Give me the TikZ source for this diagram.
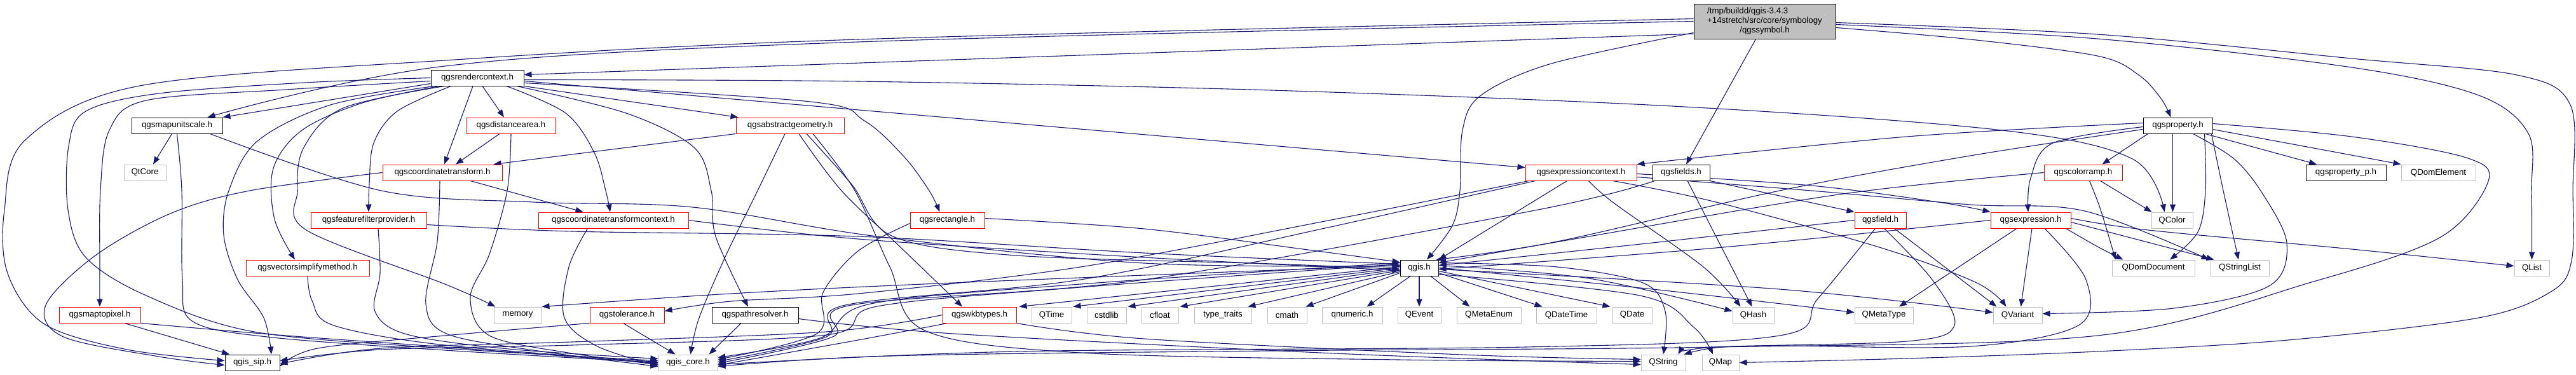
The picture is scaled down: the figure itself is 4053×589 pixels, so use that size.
\documentclass[tikz,border=0pt]{standalone}
\usepackage{fontspec}
\setmainfont{Liberation Sans}
\usetikzlibrary{arrows.meta,calc,backgrounds}
\definecolor{edgeblue}{RGB}{25,25,112}
\definecolor{graybd}{RGB}{191,191,191}
\definecolor{rootfill}{RGB}{191,191,191}
\definecolor{redbd}{RGB}{255,0,0}
\begin{document}
\begin{tikzpicture}[x=1pt,y=-1pt,
 nbox/.style={rectangle,line width=1pt,minimum height=25pt,inner sep=0pt,fill=white,font=\fontsize{13.3}{15}\selectfont},
 kbox/.style={nbox,draw=black},
 rbox/.style={nbox,draw=redbd},
 gbox/.style={nbox,draw=graybd},
 edg/.style={draw=edgeblue,line width=1.1pt,-{Triangle[length=12pt,width=9pt]}},
 smo/.style={smooth,tension=0.55}]
\useasboundingbox (0,0) rectangle (4053,589);
% ---------------- nodes
\node[kbox,fill=rootfill,minimum width=223pt,minimum height=55pt] (root) at (2776.5,33.5)
 {\begin{tabular}{@{}l@{}}/tmp/buildd/qgis-3.4.3\\+14stretch/src/core/symbology\\\multicolumn{1}{@{}c@{}}{/qgssymbol.h}\end{tabular}};
\node[kbox,minimum width=146pt] (rc) at (751,122.5) {qgsrendercontext.h};
\node[kbox,minimum width=143pt] (mus) at (278.5,197.5) {qgsmapunitscale.h};
\node[rbox,minimum width=140pt] (da) at (804,197.5) {qgsdistancearea.h};
\node[rbox,minimum width=170pt] (ag) at (1243,197.5) {qgsabstractgeometry.h};
\node[kbox,minimum width=109pt] (prop) at (3426.5,197.5) {qgsproperty.h};
\node[gbox,minimum width=66pt] (qtcore) at (228,271.5) {QtCore};
\node[rbox,minimum width=188pt] (ct) at (696,271.5) {qgscoordinatetransform.h};
\node[rbox,minimum width=175pt] (ec) at (2487.5,271.5) {qgsexpressioncontext.h};
\node[kbox,minimum width=90pt] (fields) at (2645,271.5) {qgsfields.h};
\node[rbox,minimum width=123pt] (cr) at (3277.5,271.5) {qgscolorramp.h};
\node[kbox,minimum width=126pt] (propp) at (3691,271.5) {qgsproperty\_p.h};
\node[gbox,minimum width=117pt] (domel) at (3836.5,271.5) {QDomElement};
\node[rbox,minimum width=182pt] (ffp) at (580,346.5) {qgsfeaturefilterprovider.h};
\node[rbox,minimum width=236pt] (ctc) at (965,346.5) {qgscoordinatetransformcontext.h};
\node[rbox,minimum width=117pt] (rect) at (1490.5,346.5) {qgsrectangle.h};
\node[rbox,minimum width=81pt] (field) at (2958.5,346.5) {qgsfield.h};
\node[rbox,minimum width=126pt] (expr) at (3195,346.5) {qgsexpression.h};
\node[gbox,minimum width=65pt] (qcolor) at (3417.5,346.5) {QColor};
\node[rbox,minimum width=194pt] (vsm) at (484,421.5) {qgsvectorsimplifymethod.h};
\node[kbox,minimum width=60pt] (qgis) at (2233,421.5) {qgis.h};
\node[gbox,minimum width=130pt] (domdoc) at (3388,421.5) {QDomDocument};
\node[gbox,minimum width=92pt] (strlist) at (3524,421.5) {QStringList};
\node[gbox,minimum width=55pt] (qlist) at (3983.5,421.5) {QList};
\node[rbox,minimum width=128pt] (m2p) at (157,495.5) {qgsmaptopixel.h};
\node[gbox,minimum width=75pt] (memory) at (814.5,495.5) {memory};
\node[rbox,minimum width=117pt] (tol) at (986.5,495.5) {qgstolerance.h};
\node[kbox,minimum width=136pt] (pr) at (1188,495.5) {qgspathresolver.h};
\node[rbox,minimum width=116pt] (wkb) at (1541,495.5) {qgswkbtypes.h};
\node[gbox,minimum width=63pt] (qtime) at (1654.5,495.5) {QTime};
\node[gbox,minimum width=62pt] (cstdlib) at (1741,495.5) {cstdlib};
\node[gbox,minimum width=58pt] (cfloat) at (1825,495.5) {cfloat};
\node[gbox,minimum width=90pt] (tt) at (1924,495.5) {type\_traits};
\node[gbox,minimum width=62pt] (cmath) at (2025,495.5) {cmath};
\node[gbox,minimum width=95pt] (qnum) at (2127.5,495.5) {qnumeric.h};
\node[gbox,minimum width=68pt] (qevent) at (2233,495.5) {QEvent};
\node[gbox,minimum width=101pt] (qme) at (2342.5,495.5) {QMetaEnum};
\node[gbox,minimum width=95pt] (qdt) at (2464.5,495.5) {QDateTime};
\node[gbox,minimum width=62pt] (qdate) at (2568,495.5) {QDate};
\node[gbox,minimum width=65pt] (qhash) at (2758.5,495.5) {QHash};
\node[gbox,minimum width=92pt] (qmt) at (2964,495.5) {QMetaType};
\node[gbox,minimum width=77pt] (qvar) at (3174.5,495.5) {QVariant};
\node[kbox,minimum width=86pt] (sip) at (397,570.5) {qgis\_sip.h};
\node[gbox,minimum width=93pt] (core) at (1082.5,570.5) {qgis\_core.h};
\node[gbox,minimum width=70pt] (qstring) at (2617,570.5) {QString};
\node[gbox,minimum width=58pt] (qmap) at (2707,570.5) {QMap};
% ---------------- edges
\begin{scope}[on background layer]
% root
\draw[edg] (root.190) -- ($(rc.east)+(0,-5)$);
\draw[edg] plot[smo] coordinates {(root.west) (1350,66) (700,104) ($(mus.north)+(48,0)$)};
\draw[edg] plot[smo] coordinates {($(root.west)+(0,-4)$) (1350,62) (700,95) (220,135) (40,220) (7,330) (12,430) (70,510) (200,550) ($(sip.west)+(0,-3)$)};
\draw[edg] plot[smo] coordinates {($(root.south west)+(0,-10)$) (2441,100) (2330,150) (2301,205) (2297,300) (2285,355) ($(qgis.north)+(12,0)$)};
\draw[edg] ($(root.south)+(-14,0)$) -- ($(fields.north)+(8,0)$);
\draw[edg] plot[smo] coordinates {($(root.east)+(0,10)$) (3100,62) (3300,88) (3365,118) (3400,155) ($(prop.north)+(-11,0)$)};
\draw[edg] plot[smo] coordinates {($(root.east)+(0,5)$) (3300,61) (3700,106) (3900,150) (3978,210) (3983,300) (qlist.north)};
\draw[edg] plot[smo] coordinates {($(root.east)+(0,2)$) (3300,54) (3700,92) (3960,118) (4044,165) (4048,300) (4046,410) (4015,458) (3900,500) (3600,535) (3300,553) (3000,564) (qmap.east)};
% rendercontext
\draw[edg] ($(rc.west)+(0,9)$) -- (mus.north east);
\draw[edg] plot[smo] coordinates {(rc.west) (480,130) (250,147) (135,175) (108,230) (107,330) (135,405) (230,465) (400,522) (700,548) ($(core.west)+(0,-3)$)};
\draw[edg] plot[smo] coordinates {($(rc.west)+(0,5)$) (450,141) (230,158) (172,205) (158,300) (157,420) (m2p.north)};
\draw[edg] plot[smo] coordinates {($(rc.south west)+(6,0)$) (520,165) (405,222) (360,300) (352,370) (374,440) (415,500) ($(sip.north)+(30,0)$)};
\draw[edg] ($(rc.south)+(-7,0)$) -- ($(ct.north)+(3,0)$);
\draw[edg] ($(rc.south)+(8,0)$) -- ($(da.north)+(-11,0)$);
\draw[edg] plot[smo] coordinates {($(rc.south west)+(14,0)$) (570,162) (475,205) (430,265) (432,345) ($(vsm.north)+(-20,0)$)};
\draw[edg] plot[smo] coordinates {($(rc.south west)+(22,0)$) (540,170) (478,232) (468,300) (482,362) (700,447) ($(memory.north west)+(3,0)$)};
\draw[edg] plot[smo] coordinates {($(rc.south west)+(32,0)$) (625,175) (588,225) (581,290) (ffp.north)};
\draw[edg] plot[smo] coordinates {($(rc.south)+(46,0)$) (890,178) (935,240) (953,300) ($(ctc.north)+(-5,0)$)};
\draw[edg] plot[smo] coordinates {($(rc.south)+(62,0)$) (985,178) (1092,232) (1119,300) (1126,372) ($(pr.north)+(-11,0)$)};
\draw[edg] (rc.south east) -- ($(ag.north west)+(4,0)$);
\draw[edg] plot[smo] coordinates {($(rc.east)+(0,3)$) (1350,128) (2000,142) (2650,168) (3150,205) (3355,250) ($(qcolor.north)+(-12,0)$)};
\draw[edg] plot[smo] coordinates {($(rc.east)+(0,8)$) (1275,160) (1360,190) (1422,246) (1462,300) ($(rect.north)+(-12,0)$)};
\draw[edg] ($(rc.east)+(0,5)$) -- ($(ec.west)+(0,-8)$);
% mapunitscale
\draw[edg] ($(mus.south)+(-8,0)$) -- ($(qtcore.north)+(13,0)$);
\draw[edg] plot[smo] coordinates {(mus.south) (286,300) (287,440) (302,505) (420,530) (700,551) (core.west)};
\draw[edg] plot[smo] coordinates {($(mus.south east)+(-20,0)$) (600,300) (840,318) (1090,326) (1380,372) (1800,414) ($(qgis.west)+(0,-3)$)};
% distancearea
\draw[edg] ($(da.south)+(-18,0)$) -- ($(ct.north)+(21,0)$);
\draw[edg] plot[smo] coordinates {(da.south) (798,300) (770,400) (740,468) (770,528) (900,556) ($(core.west)+(0,3)$)};
% abstractgeometry
\draw[edg] (ag.south west) -- ($(ct.north east)+(-14,0)$);
\draw[edg] plot[smo] coordinates {($(ag.south)+(-8,0)$) (1192,300) (1143,400) (1100,500) ($(core.north)+(4,0)$)};
\draw[edg] plot[smo] coordinates {($(ag.south)+(14,0)$) (1324,300) (1420,392) ($(wkb.north)+(-27,0)$)};
\draw[edg] plot[smo] coordinates {($(ag.south)+(26,0)$) (1340,290) (1405,372) (1600,402) (2000,415) ($(qgis.west)+(0,2)$)};
\draw[edg] plot[smo] coordinates {($(ag.south)+(36,0)$) (1345,300) (1400,420) (1455,520) (1700,555) (2200,566) ($(qstring.west)+(0,-2)$)};
% coordinatetransform
\draw[edg] plot[smo] coordinates {(ct.west) (393,300) (268,336) (150,402) (72,480) (100,530) (250,561) ($(sip.west)+(0,4)$)};
\draw[edg] ($(ct.south)+(44,0)$) -- ($(ctc.north west)+(71,0)$);
\draw[edg] plot[smo] coordinates {($(ct.south)+(-4,0)$) (688,380) (670,478) (705,526) (860,554) ($(core.west)+(0,6)$)};
% featurefilterprovider
\draw[edg] plot[smo] coordinates {($(ffp.south)+(15,0)$) (598,430) (590,490) (640,526) (800,549) ($(core.west)+(0,-6)$)};
\draw[edg] plot[smo] coordinates {($(ffp.east)+(0,7)$) (900,364) (1350,372) (1800,398) ($(qgis.west)+(0,-6)$)};
% vectorsimplifymethod / maptopixel
\draw[edg] plot[smo] coordinates {(vsm.south) (491,473) (525,512) (700,543) ($(core.west)+(0,-1)$)};
\draw[edg] ($(m2p.south)+(39,0)$) -- ($(sip.north)+(-36,0)$);
\draw[edg] plot[smo] coordinates {(m2p.south east) (450,528) (700,546) ($(core.west)+(0,1)$)};
% coordinatetransformcontext
\draw[edg] plot[smo] coordinates {($(ctc.south west)+(78,0)$) (895,420) (888,500) (940,545) ($(core.west)+(0,5)$)};
\draw[edg] plot[smo] coordinates {(ctc.east) (1350,376) (1800,405) ($(qgis.west)+(0,4)$)};
% rectangle
\draw[edg] plot[smo] coordinates {($(rect.west)+(0,5)$) (1350,395) (1295,460) (1285,525) ($(core.east)+(0,-5)$)};
\draw[edg] plot[smo] coordinates {($(rect.east)+(0,-3)$) (1800,360) (2050,392) ($(qgis.west)+(0,-9)$)};
% expressioncontext
\draw[edg] ($(ec.south)+(-22,0)$) -- (qgis.north east);
\draw[edg] plot[smo] coordinates {($(ec.south west)+(6,0)$) (2100,345) (1700,420) (1350,462) (1150,474) ($(tol.east)+(0,-6)$)};
\draw[edg] plot[smo] coordinates {($(ec.south west)+(16,0)$) (2080,360) (1700,440) (1330,480) (1300,530) ($(core.east)+(0,-2)$)};
\draw[edg] plot[smo] coordinates {($(ec.south)+(12,0)$) (2540,320) (2680,420) ($(qhash.north)+(-20,0)$)};
\draw[edg] plot[smo] coordinates {($(ec.south)+(50,0)$) (2700,318) (2960,390) (3110,445) ($(qvar.north)+(-18,0)$)};
\draw[edg] plot[smo] coordinates {($(ec.east)+(0,7)$) (2850,300) (3100,322) (3280,332) ($(strlist.north west)+(-2,0)$)};
\draw[edg] plot[smo] coordinates {($(ec.east)+(0,2)$) (2850,292) (3050,318) ($(expr.north west)+(0,0)$)};
% fields
\draw[edg] (fields.south east) -- (field.north west);
\draw[edg] plot[smo] coordinates {($(fields.south west)+(4,0)$) (2420,330) (1800,440) (1340,480) (1310,530) ($(core.east)+(0,1)$)};
\draw[edg] ($(fields.south)+(10,0)$) -- ($(qhash.north)+(-2,0)$);
% field
\draw[edg] plot[smo] coordinates {(field.west) (2600,382) ($(qgis.east)+(0,-4)$)};
\draw[edg] plot[smo] coordinates {($(field.south)+(-8,0)$) (2860,470) (2800,528) (2400,546) (1600,553) ($(core.east)+(0,3)$)};
\draw[edg] plot[smo] coordinates {($(field.south)+(6,0)$) (3040,440) (3075,512) (3000,537) (2700,546) ($(qstring.north east)+(-12,0)$)};
\draw[edg] ($(field.south)+(22,0)$) -- ($(qvar.north west)+(6,0)$);
% expression
\draw[edg] ($(expr.south)+(-22,0)$) -- ($(qmt.north)+(24,0)$);
\draw[edg] ($(expr.south)+(2,0)$) -- ($(qvar.north)+(5,0)$);
\draw[edg] plot[smo] coordinates {($(expr.south)+(22,0)$) (3282,440) (3270,512) (3100,545) (2800,544) (2700,547) ($(qstring.north east)+(-3,0)$)};
\draw[edg] plot[smo] coordinates {(expr.west) (2700,390) ($(qgis.east)+(0,2)$)};
\draw[edg] plot[smo] coordinates {($(expr.south east)+(-8,0)$) (3300,388) ($(domdoc.north west)+(18,0)$)};
\draw[edg] ($(expr.east)+(0,3)$) -- ($(strlist.north west)+(6,0)$);
\draw[edg] plot[smo] coordinates {($(expr.east)+(0,-3)$) (3380,362) (3700,392) ($(qlist.west)+(0,-3)$)};
% colorramp
\draw[edg] ($(cr.south east)+(-35,0)$) -- ($(qcolor.north west)+(1,0)$);
\draw[edg] plot[smo] coordinates {(cr.west) (2900,305) (2500,372) ($(qgis.east)+(0,-8)$)};
\draw[edg] plot[smo] coordinates {($(cr.south)+(10,0)$) (3305,330) ($(domdoc.north west)+(6,0)$)};
% property
\draw[edg] ($(prop.south)+(-8,0)$) -- ($(qcolor.north)+(1,0)$);
\draw[edg] plot[smo] coordinates {($(prop.south)+(42,0)$) (3470,300) (3458,365) ($(domdoc.north)+(26,0)$)};
\draw[edg] plot[smo] coordinates {($(prop.south east)+(-2,0)$) (3498,300) ($(strlist.north)+(-2,0)$)};
\draw[edg] ($(prop.south east)+(-12,0)$) -- ($(propp.north)+(-46,0)$);
\draw[edg] ($(prop.east)+(0,6)$) -- (domel.north west);
\draw[edg] ($(prop.south west)+(8,0)$) -- ($(cr.north east)+(-32,0)$);
\draw[edg] plot[smo] coordinates {($(prop.west)+(0,-4)$) (3000,215) (ec.north east)};
\draw[edg] plot[smo] coordinates {($(prop.west)+(0,2)$) (3230,225) (3195,280) ($(expr.north)+(-4,0)$)};
\draw[edg] plot[smo] coordinates {($(prop.west)+(0,6)$) (3100,245) (2800,300) (2450,380) ($(qgis.north east)+(-4,0)$)};
\draw[edg] plot[smo] coordinates {($(prop.south)+(24,0)$) (3515,250) (3560,305) (3598,383) (3570,450) (3420,485) ($(qvar.east)+(0,-2)$)};
\draw[edg] plot[smo] coordinates {($(prop.east)+(0,-3)$) (3700,215) (3880,248) (3915,285) (3840,373) (3640,443) (3300,528) (2700,546) (2000,552) (1400,560) ($(core.east)+(0,6)$)};
% qgis.h
\draw[edg] (qgis.south) -- (qevent.north);
\draw[edg] ($(qgis.south)+(-14,0)$) -- ($(qnum.north)+(23,0)$);
\draw[edg] ($(qgis.south)+(18,0)$) -- ($(qme.north)+(-30,0)$);
\draw[edg] ($(qgis.east)+(0,8)$) -- ($(qdt.north)+(-38,0)$);
\draw[edg] ($(qgis.east)+(0,5)$) -- ($(qdate.north west)+(-3,0)$);
\draw[edg] ($(qgis.west)+(0,8)$) -- ($(cmath.north east)+(-2,0)$);
\draw[edg] ($(qgis.west)+(0,6)$) -- ($(tt.north east)+(-6,0)$);
\draw[edg] ($(qgis.west)+(0,4)$) -- ($(cfloat.north east)+(2,0)$);
\draw[edg] ($(qgis.west)+(0,2)$) -- ($(cstdlib.north east)+(2,0)$);
\draw[edg] (qgis.west) -- ($(qtime.north east)+(2,0)$);
\draw[edg] ($(qgis.west)+(0,-2)$) -- ($(wkb.north east)+(4,0)$);
\draw[edg] plot[smo] coordinates {($(qgis.west)+(0,-4)$) (1500,445) (1150,462) (memory.north east)};
\draw[edg] plot[smo] coordinates {($(qgis.west)+(0,-6)$) (1700,452) (1380,482) (1300,527) (900,543) (600,550) ($(sip.east)+(0,-3)$)};
\draw[edg] plot[smo] coordinates {($(qgis.west)+(0,-8)$) (1700,447) (1370,478) (1290,532) ($(core.east)+(0,-8)$)};
\draw[edg] plot[smo] coordinates {($(qgis.east)+(0,-8)$) (2450,420) (2585,445) (2620,490) (qstring.north)};
\draw[edg] plot[smo] coordinates {($(qgis.east)+(0,-4)$) (2500,438) ($(qhash.west)+(0,-6)$)};
\draw[edg] plot[smo] coordinates {(qgis.east) (2600,455) ($(qmt.west)+(0,-4)$)};
\draw[edg] plot[smo] coordinates {($(qgis.east)+(0,2)$) (2800,455) ($(qvar.west)+(0,-4)$)};
\draw[edg] plot[smo] coordinates {($(qgis.east)+(0,10)$) (2580,465) (2665,515) ($(qmap.north)+(-12,0)$)};
% wkbtypes
\draw[edg] plot[smo] coordinates {(wkb.west) (1300,522) (900,538) (600,548) ($(sip.east)+(0,2)$)};
\draw[edg] plot[smo] coordinates {($(wkb.south west)+(8,0)$) (1350,535) ($(core.east)+(0,4)$)};
\draw[edg] plot[smo] coordinates {(wkb.south east) (1800,533) (2300,558) ($(qstring.west)+(0,-5)$)};
% tolerance
\draw[edg] ($(tol.south)+(-6,0)$) -- ($(core.north)+(-20,0)$);
\draw[edg] plot[smo] coordinates {(tol.south west) (700,528) (500,548) ($(sip.east)+(0,6)$)};
% pathresolver
\draw[edg] ($(pr.south)+(-22,0)$) -- ($(core.north east)+(-14,0)$);
\draw[edg] plot[smo] coordinates {($(pr.east)+(0,6)$) (1500,525) (2100,556) ($(qstring.west)+(0,3)$)};
\end{scope}
\end{tikzpicture}
\end{document}
